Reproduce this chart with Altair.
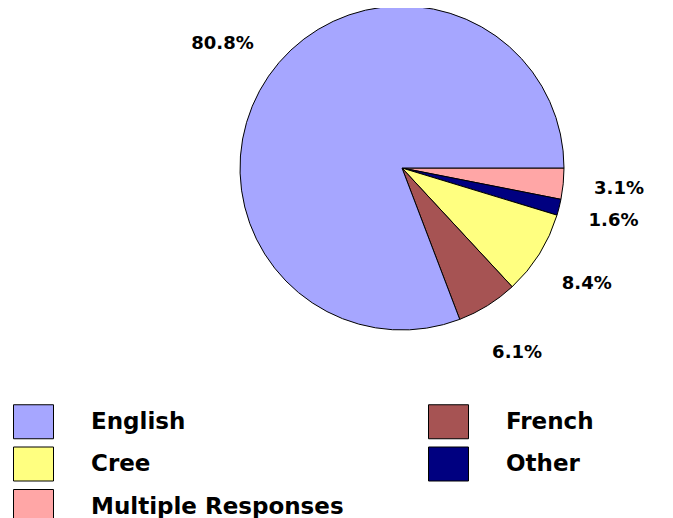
import math
import altair as alt
import pandas as pd

# Pie slices, clockwise from 3 o'clock
categories = ["Multiple Responses", "Other", "Cree", "French", "English"]
values = [3.1, 1.6, 8.4, 6.1, 80.8]
# Legend order (column-major, two columns)
legend_order = ["English", "Cree", "Multiple Responses", "French", "Other"]
legend_colors = ["#A6A6FF", "#FFFF80", "#FFA6A6", "#A65353", "#000080"]

df = pd.DataFrame({"category": categories, "value": values, "idx": list(range(len(categories)))})

FONT = "DejaVu Sans"
CX, CY, R = 394, 160, 162

theta = alt.Theta("value:Q", stack=True,
                  scale=alt.Scale(range=[math.pi / 2, math.pi / 2 + 2 * math.pi]))
color = alt.Color(
    "category:N",
    scale=alt.Scale(domain=legend_order, range=legend_colors),
    legend=alt.Legend(
        title=None,
        orient="none",
        legendX=5,
        legendY=393,
        columns=2,
        columnPadding=82,
        rowPadding=2.5,
        padding=0,
        symbolType="M-1,-0.85H1V0.85H-1Z",
        symbolSize=1600,
        symbolStrokeColor="black",
        symbolStrokeWidth=1,
        symbolOpacity=1,
        labelFont=FONT,
        labelFontSize=23,
        labelFontWeight="bold",
        labelColor="black",
        labelOffset=37,
        labelLimit=400,
    ),
)

base = alt.Chart(df).encode(
    theta=theta,
    order=alt.Order("idx:Q", sort="ascending"),
)

pie = base.mark_arc(stroke="black", strokeWidth=1, radius=R).encode(
    color=color,
    x=alt.value(CX),
    y=alt.value(CY),
)

labels = base.transform_calculate(
    label="format(datum.value, '.1f') + '%'"
).mark_text(
    radius=R + 56, font=FONT, fontSize=18, fontWeight="bold", color="black"
).encode(
    text="label:N",
    x=alt.value(CX),
    y=alt.value(CY),
)

chart = alt.layer(pie, labels).properties(
    width=657, height=510, autosize=alt.AutoSizeParams(type="none"), padding=0
).configure_view(stroke=None)

chart.save("out.html", embed_options={"renderer": "svg", "actions": False})
